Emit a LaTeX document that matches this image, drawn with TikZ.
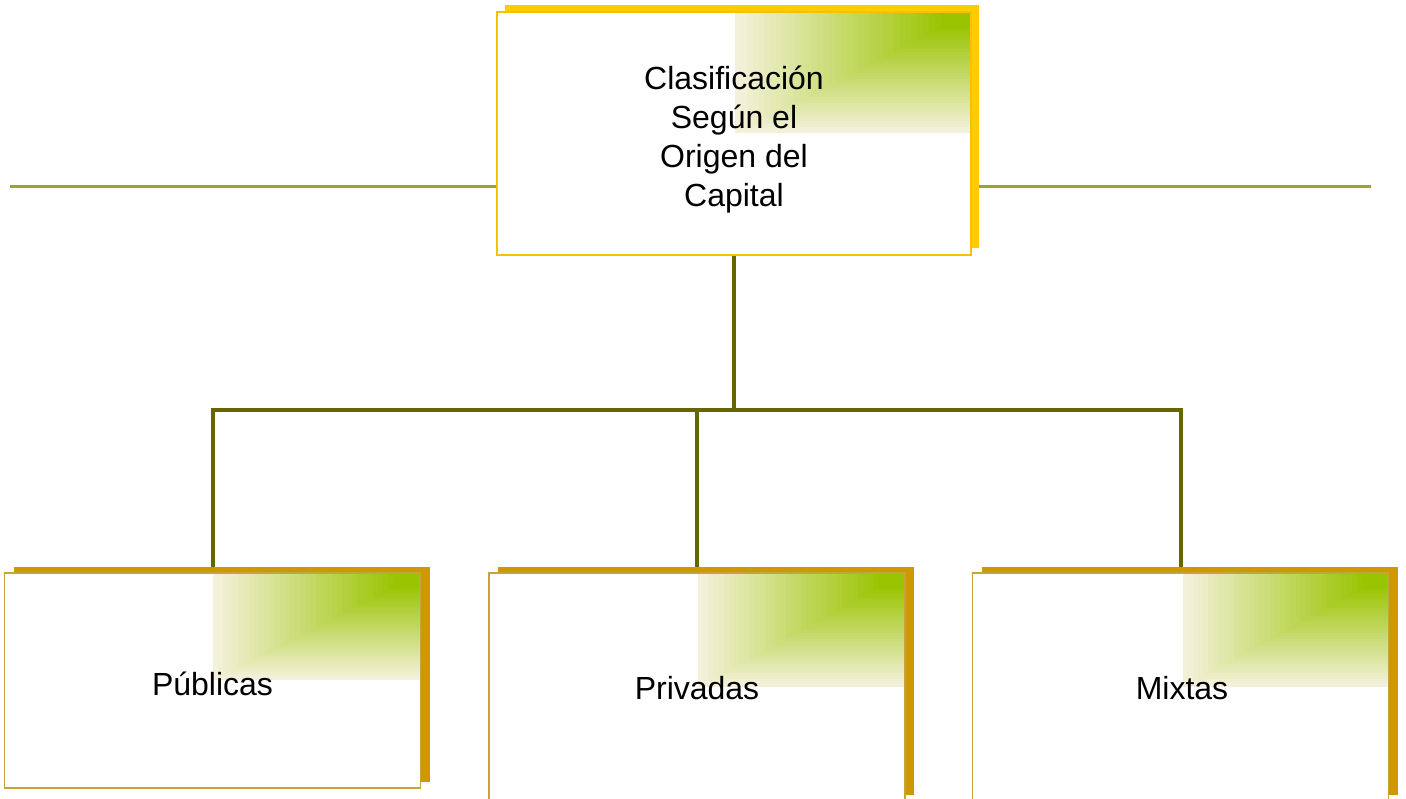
\documentclass[tikz,border=0pt]{standalone}
\usepackage{fontspec}
\setmainfont{Liberation Sans}
\usetikzlibrary{shadows}
\definecolor{olivebus}{HTML}{666600}
\definecolor{sideline}{HTML}{9AA624}
\definecolor{topgold}{HTML}{FFCC00}
\definecolor{topborder}{HTML}{F2C400}
\definecolor{botshadow}{HTML}{CC9900}
\definecolor{botborder}{HTML}{C9A23A}
\definecolor{grgreen}{HTML}{99C400}
\definecolor{grpale}{HTML}{F4F1DA}
\pgfdeclarelayer{bg}
\pgfsetlayers{bg,main}
\newcommand\greengrad[4]{%
  \foreach \i in {0,...,39}{%
    \pgfmathsetmacro\ff{1-\i/40}%
    \pgfmathtruncatemacro\tt{min(100,100*\i/35)}%
    \fill[grgreen!\tt!grpale] ({#1-#3*\ff},#2) rectangle (#1,{#2+#4*\ff});
  }%
}
\tikzset{
  topbox/.style={draw=topborder, line width=1.2pt, fill=white, inner sep=0pt,
    minimum width=474pt, minimum height=243pt,
    drop shadow={shadow xshift=8pt, shadow yshift=7pt, fill=topgold, opacity=1}},
  botbox/.style={draw=botborder, line width=1.2pt, fill=white, inner sep=0pt,
    minimum width=416pt, minimum height=#1,
    drop shadow={shadow xshift=9pt, shadow yshift=6pt, fill=botshadow, opacity=1}},
  bus/.style={draw=olivebus, line width=4pt},
  side/.style={draw=sideline, line width=3pt},
  lbl/.style={font=\fontsize{32}{39}\selectfont, text=black, inner sep=0pt}
}
\begin{document}
\begin{tikzpicture}[x=1pt,y=-1pt]
\useasboundingbox (0,0) rectangle (1406,799);
% boxes
\node[topbox] (top) at (734,133.5) {};
\greengrad{970}{13}{235}{120}
\node[botbox=215pt] (pub) at (212.5,680.5) {};
\greengrad{419.5}{574}{207}{106}
\node[botbox=228pt] (pri) at (697,687) {};
\greengrad{904}{574}{206}{113}
\node[botbox=228pt] (mix) at (1180.5,687) {};
\greengrad{1387.5}{574}{205}{113}
% texts
\node[lbl, align=center] (toptxt) at (734,140) {Clasificación\\Según el\\Origen del\\Capital};
\node[lbl, anchor=base] (pubtxt) at (212.5,695) {Públicas};
\node[lbl, anchor=base] (pritxt) at (697,699) {Privadas};
\node[lbl, anchor=base] (mixtxt) at (1182,699) {Mixtas};
% connectors
\coordinate (j) at (734,410);
\coordinate (L) at (10,187);
\coordinate (R) at (1371,187);
\begin{pgfonlayer}{bg}
\draw[bus] (top.south) -- (j);
\draw[bus] (j) -| (pub.north);
\draw[bus] (j) -| (pri.north);
\draw[bus] (j) -| (mix.north);
\draw[side] (L) -- (L -| top.west);
\draw[side] (top.east |- R) -- (R);
\end{pgfonlayer}
\end{tikzpicture}
\end{document}
